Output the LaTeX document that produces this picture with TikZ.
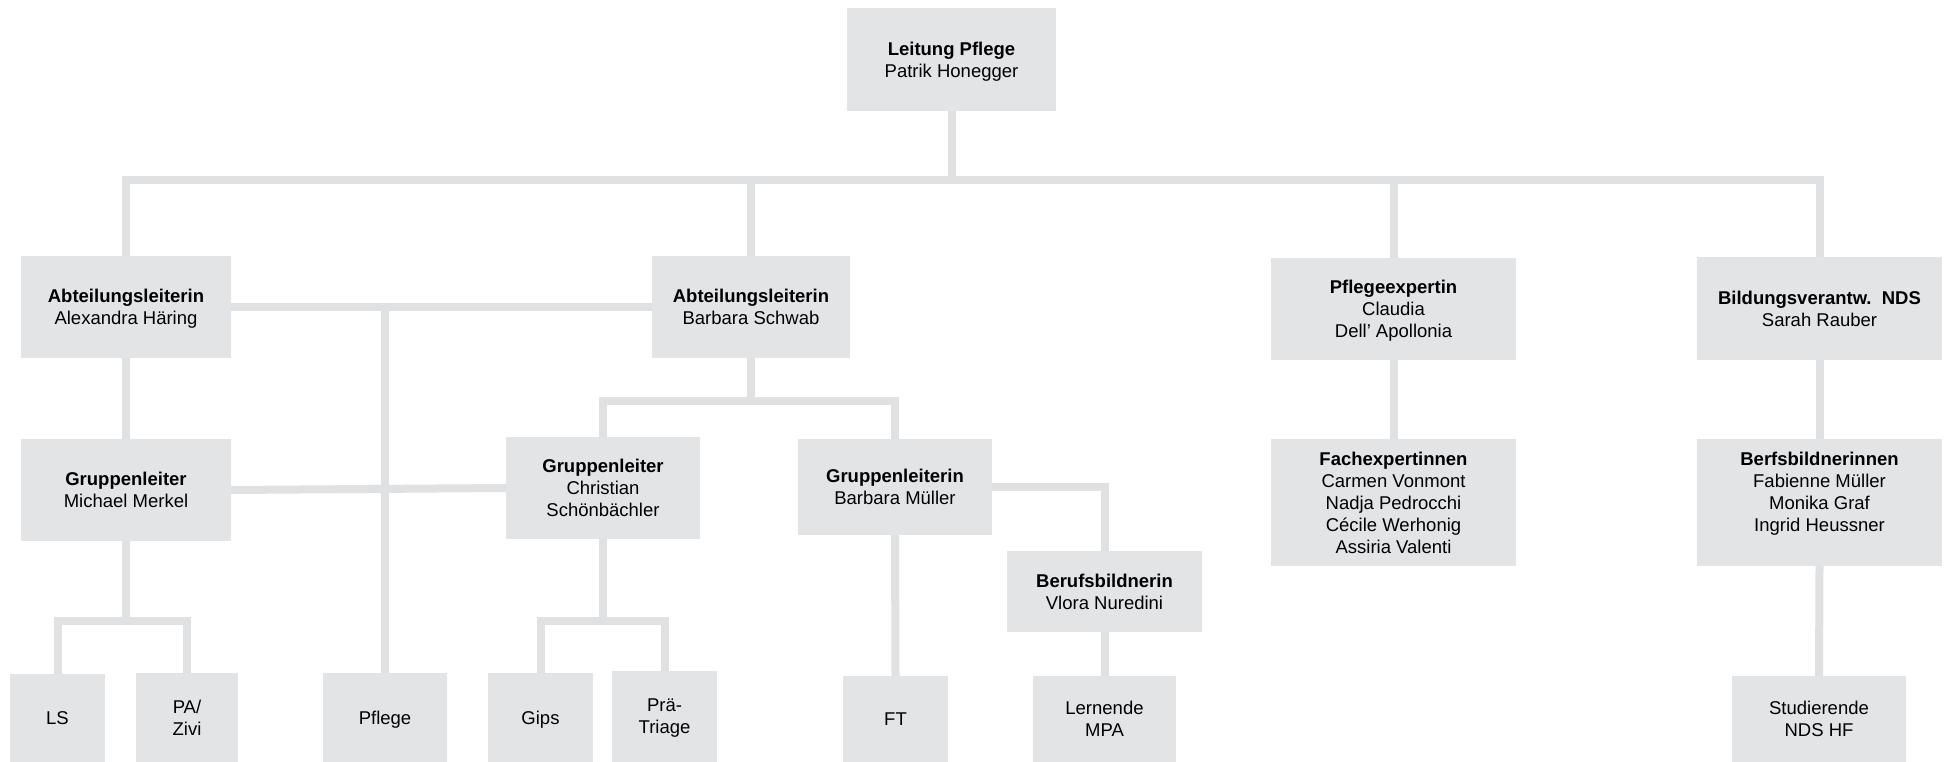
\documentclass[tikz,border=0pt]{standalone}
\usepackage{fontspec}
\setmainfont{Liberation Sans}
\usetikzlibrary{backgrounds}
\definecolor{boxfill}{RGB}{227,228,230}
\definecolor{linegray}{RGB}{224,225,227}
\begin{document}
\begin{tikzpicture}[x=1pt,y=-1pt,
  box/.style={fill=boxfill, draw=none, inner sep=0pt, align=center,
    font=\fontsize{18.5}{22}\selectfont, text=black, text depth=0pt},
  conn/.style={draw=linegray, line width=8pt, line cap=rect, line join=miter}]
\useasboundingbox (0,0) rectangle (1946,762);
% level 1
\node[box, minimum width=209pt, minimum height=103pt] (top) at (951.5,59.5) {\textbf{Leitung Pflege}\\Patrik Honegger};
% level 2
\node[box, minimum width=210pt, minimum height=102pt] (al1) at (126,307) {\textbf{Abteilungsleiterin}\\Alexandra Häring};
\node[box, minimum width=198pt, minimum height=102pt] (al2) at (751,307) {\textbf{Abteilungsleiterin}\\Barbara Schwab};
\node[box, minimum width=245pt, minimum height=102pt] (pe) at (1393.5,309) {\textbf{Pflegeexpertin}\\Claudia\\Dell’ Apollonia};
\node[box, minimum width=245pt, minimum height=103pt] (bv) at (1819.5,308.5) {\textbf{Bildungsverantw.\ \ NDS}\\Sarah Rauber};
% level 3
\node[box, minimum width=210pt, minimum height=102pt] (gl1) at (126,490) {\textbf{Gruppenleiter}\\Michael Merkel};
\node[box, minimum width=194pt, minimum height=102pt] (gl2) at (603,488) {\textbf{Gruppenleiter}\\Christian\\Schönbächler};
\node[box, minimum width=194pt, minimum height=96pt] (gl3) at (895,487) {\textbf{Gruppenleiterin}\\Barbara Müller};
\node[box, minimum width=195pt, minimum height=81pt] (bb) at (1104.5,591.5) {\textbf{Berufsbildnerin}\\Vlora Nuredini};
\node[box, minimum width=245pt, minimum height=127pt] (fe) at (1393.5,502.5) {\textbf{Fachexpertinnen}\\Carmen Vonmont\\Nadja Pedrocchi\\Cécile Werhonig\\Assiria Valenti};
\node[box, minimum width=245pt, minimum height=127pt] (bbs) at (1819.5,502.5) {\textbf{Berfsbildnerinnen}\\Fabienne Müller\\Monika Graf\\Ingrid Heussner\\\mbox{}};
% level 4
\node[box, minimum width=95pt, minimum height=88pt] (ls) at (57.5,718) {LS};
\node[box, minimum width=102pt, minimum height=89pt] (pa) at (187,717.5) {PA/\\Zivi};
\node[box, minimum width=124pt, minimum height=89pt] (pfl) at (385,717.5) {Pflege};
\node[box, minimum width=105pt, minimum height=89pt] (gips) at (540.5,717.5) {Gips};
\node[box, minimum width=105pt, minimum height=91pt] (prae) at (664.5,716.5) {Prä-\\Triage};
\node[box, minimum width=105pt, minimum height=86pt] (ft) at (895.5,719) {FT};
\node[box, minimum width=143pt, minimum height=86pt] (lern) at (1104.5,719) {Lernende\\MPA};
\node[box, minimum width=174pt, minimum height=86pt] (stud) at (1819,719) {Studierende\\NDS HF};
% connectors
\begin{scope}[on background layer]
\fill[white] (0,0) rectangle (1946,762);
\coordinate (busA) at (0,180);
\coordinate (busB) at (0,401);
\coordinate (busC) at (0,621);
\draw[conn] (top.south) -- (top.south |- busA);
\draw[conn] (al1.north) |- (bv.north |- busA) -- (bv.north);
\draw[conn] (al2.north) -- (al2.north |- busA);
\draw[conn] (pe.north) -- (pe.north |- busA);
\draw[conn] (al1.east) -- (al2.west);
\draw[conn] (pfl.north) -- (pfl.north |- al1.east);
\draw[conn] (al2.south) -- (al2.south |- busB);
\draw[conn] (gl2.north) |- (gl3.north |- busB) -- (gl3.north);
\draw[conn] (al1.south) -- (gl1.north);
\draw[conn] (gl1.east) -- (gl2.west);
\draw[conn] (gl1.south) -- (gl1.south |- busC);
\draw[conn] (ls.north) |- (pa.north |- busC) -- (pa.north);
\draw[conn] (gl2.south) -- (gl2.south |- busC);
\draw[conn] (gips.north) |- (prae.north |- busC) -- (prae.north);
\draw[conn] (gl3.south) -- (ft.north);
\draw[conn] (gl3.east) -| (bb.north);
\draw[conn] (bb.south) -- (lern.north);
\draw[conn] (pe.south) -- (fe.north);
\draw[conn] (bv.south) -- (bbs.north);
\draw[conn] (bbs.south) -- (stud.north);
\end{scope}
\end{tikzpicture}
\end{document}
